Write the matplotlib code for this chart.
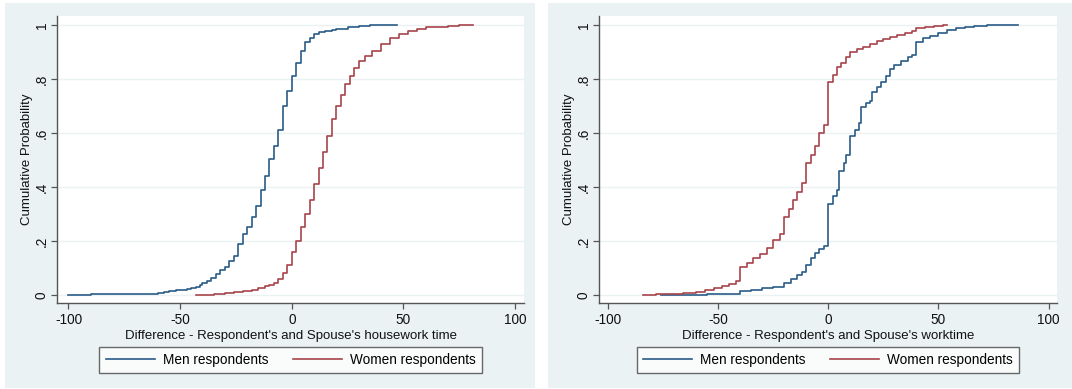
import matplotlib
matplotlib.use("Agg")
import matplotlib.pyplot as plt
from matplotlib.patches import Rectangle

plt.rcParams['font.family'] = ['Liberation Sans', 'DejaVu Sans']

# ---- data: left panel (housework time difference) ----
hw_men_x = [-100, -90, -80, -70, -64, -60, -57, -55, -52, -50, -47, -45, -43, -41, -40,
            -38, -36, -34, -32, -30, -28, -26, -24, -22, -20, -18, -16, -14, -12, -10,
            -8, -6, -4, -2, 0, 2, 4, 6, 8, 10, 12, 15, 18, 20, 25, 30, 35, 40, 47]
hw_men_f = [0.001, 0.002, 0.003, 0.004, 0.005, 0.008, 0.011, 0.015, 0.018, 0.020, 0.023,
            0.027, 0.031, 0.038, 0.043, 0.052, 0.063, 0.078, 0.093, 0.105, 0.125, 0.145,
            0.19, 0.225, 0.25, 0.29, 0.33, 0.39, 0.44, 0.505, 0.55, 0.61, 0.70, 0.755,
            0.81, 0.86, 0.905, 0.935, 0.95, 0.965, 0.972, 0.978, 0.983, 0.986, 0.992,
            0.996, 0.998, 0.999, 1.0]
hw_women_x = [-43, -40, -35, -30, -26, -22, -18, -15, -12, -10, -8, -6, -4, -2, 0, 2, 4,
              6, 8, 10, 12, 14, 16, 18, 20, 22, 24, 26, 28, 30, 33, 36, 40, 44, 48, 52,
              56, 60, 65, 70, 75, 81]
hw_women_f = [0.0, 0.001, 0.003, 0.006, 0.011, 0.014, 0.019, 0.025, 0.032, 0.037, 0.045,
              0.06, 0.08, 0.11, 0.16, 0.20, 0.25, 0.30, 0.35, 0.41, 0.47, 0.53, 0.59,
              0.65, 0.70, 0.74, 0.78, 0.81, 0.84, 0.865, 0.885, 0.905, 0.928, 0.95,
              0.965, 0.978, 0.986, 0.991, 0.994, 0.996, 0.998, 1.0]

# ---- data: right panel (worktime difference) ----
wt_men_x = [-76, -65, -55, -45, -40, -35, -30, -25, -20, -17, -14, -12, -10, -8, -6, -4,
            -2, 0, 2, 4, 5, 7, 8, 10, 12, 14, 15, 17, 19, 20, 22, 24, 26, 28, 30, 33, 36,
            38, 40, 43, 46, 50, 54, 58, 62, 66, 72, 80, 86]
wt_men_f = [0.0005, 0.001, 0.002, 0.005, 0.015, 0.018, 0.024, 0.031, 0.045, 0.06, 0.075,
            0.085, 0.11, 0.135, 0.155, 0.17, 0.18, 0.335, 0.365, 0.39, 0.46, 0.49, 0.52,
            0.59, 0.61, 0.635, 0.695, 0.71, 0.72, 0.75, 0.77, 0.79, 0.81, 0.835, 0.852,
            0.865, 0.88, 0.89, 0.935, 0.95, 0.96, 0.97, 0.98, 0.988, 0.993, 0.996,
            0.998, 0.999, 1.0]
wt_women_x = [-84, -78, -72, -66, -60, -56, -52, -48, -45, -42, -40, -37, -34, -31, -28,
              -25, -22, -20, -18, -16, -14, -12, -10, -8, -6, -4, -2, 0, 2, 4, 6, 8, 10,
              13, 16, 19, 22, 25, 28, 31, 35, 38, 40, 44, 48, 52, 54]
wt_women_f = [0.001, 0.002, 0.004, 0.008, 0.012, 0.018, 0.024, 0.032, 0.04, 0.052, 0.105,
              0.118, 0.135, 0.152, 0.175, 0.205, 0.225, 0.29, 0.32, 0.35, 0.38, 0.415,
              0.49, 0.52, 0.55, 0.60, 0.63, 0.79, 0.815, 0.845, 0.86, 0.88, 0.90, 0.91,
              0.92, 0.93, 0.94, 0.948, 0.955, 0.962, 0.97, 0.978, 0.99, 0.994, 0.997,
              0.999, 1.0]

x_ticks = [-100, -50, 0, 50, 100]
y_ticks = [0, 0.2, 0.4, 0.6, 0.8, 1.0]
y_tick_labels = ["0", ".2", ".4", ".6", ".8", "1"]
series_labels = ["Men respondents", "Women respondents"]
x_titles = ["Difference - Respondent's and Spouse's housework time",
            "Difference - Respondent's and Spouse's worktime"]
y_title = "Cumulative Probability"

BLUE = "#2a5b88"
RED = "#a8434b"
PANEL_BG = "#eaf2f3"
GRID = "#eaf2f3"
AXIS = "#555555"

W, H = 1072, 389
fig = plt.figure(figsize=(W / 100, H / 100), dpi=100)
fig.patch.set_facecolor("white")

def px_rect(x0, y0, x1, y1):
    return [x0 / W, 1 - y1 / H, (x1 - x0) / W, (y1 - y0) / H]

# panel backgrounds
for (x0, x1) in [(5, 535), (548, 1072)]:
    r = Rectangle((x0 / W, 1 - 388 / H), (x1 - x0) / W, (388 - 3) / H,
                  transform=fig.transFigure, facecolor=PANEL_BG, edgecolor="none", zorder=-10)
    fig.patches.append(r)

panels = [
    (px_rect(57.3, 16, 524, 303.3), (-105, 104), hw_men_x, hw_men_f, hw_women_x, hw_women_f, x_titles[0]),
    (px_rect(599, 16, 1057, 303.3), (-104, 103.8), wt_men_x, wt_men_f, wt_women_x, wt_women_f, x_titles[1]),
]

for rect, xlim, mx, mf, wx, wf, xt in panels:
    ax = fig.add_axes(rect)
    ax.set_zorder(1)
    ax.set_facecolor("white")
    ax.step(mx, mf, where="post", color=BLUE, lw=1.2, label=series_labels[0], zorder=3)
    ax.step(wx, wf, where="post", color=RED, lw=1.2, label=series_labels[1], zorder=3)
    ax.set_xlim(*xlim)
    ax.set_ylim(-0.031, 1.033)
    ax.set_xticks(x_ticks)
    ax.set_xticklabels([str(t) for t in x_ticks])
    ax.set_yticks(y_ticks)
    ax.set_yticklabels(y_tick_labels, rotation=90, va="center")
    for yv in y_ticks:
        ax.axhline(yv, color=GRID, lw=1.0, zorder=1)
    for s in ["top", "right"]:
        ax.spines[s].set_visible(False)
    for s in ["left", "bottom"]:
        ax.spines[s].set_color(AXIS)
        ax.spines[s].set_linewidth(1.0)
    ax.tick_params(direction="out", length=4, width=0.9, color=AXIS,
                   labelsize=9.8, labelcolor="#111111", pad=3)
    ax.tick_params(axis="y", pad=2)
    ax.set_xlabel(xt, fontsize=9.5, color="#111111", labelpad=2)
    ax.set_ylabel(y_title, fontsize=9.5, color="#111111")
    width_px = rect[2] * W
    ax.yaxis.set_label_coords(-24.0 / width_px, 0.5)
    leg = ax.legend(loc="upper center", bbox_to_anchor=(0.5, -0.152), ncol=2,
                    frameon=True, fancybox=False, fontsize=9.8, handlelength=3.6,
                    columnspacing=1.8, borderpad=0.45, borderaxespad=0, handletextpad=0.6)
    leg.get_frame().set_edgecolor("#444444")
    leg.get_frame().set_linewidth(1.0)
    leg.get_frame().set_facecolor("white")

fig.savefig("out.png", dpi=100, facecolor="white")
